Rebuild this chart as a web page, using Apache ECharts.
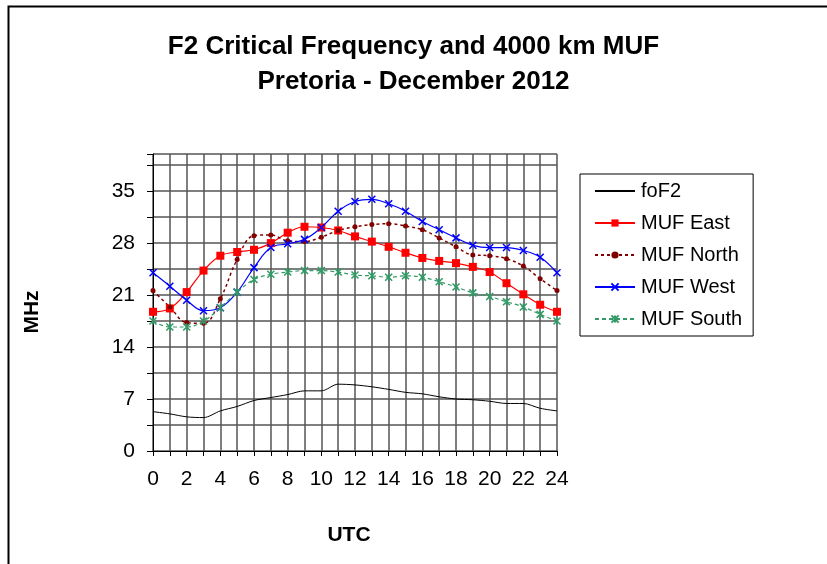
<!DOCTYPE html>
<html>
<head>
<meta charset="utf-8">
<script src="https://cdn.jsdelivr.net/npm/echarts@6/dist/echarts.min.js"></script>
<style>
  html, body { margin: 0; padding: 0; background: #fff; }
  #chart { width: 827px; height: 564px; }
</style>
</head>
<body>
<div id="chart"></div>
<script>
// UTC hours
var hours = [0,1,2,3,4,5,6,7,8,9,10,11,12,13,14,15,16,17,18,19,20,21,22,23,24];

// MHz values
var foF2     = [5.3,5.0,4.6,4.5,5.4,6.0,6.8,7.2,7.6,8.1,8.1,9.0,8.9,8.65,8.3,7.9,7.7,7.3,7.0,6.9,6.7,6.4,6.4,5.75,5.4];
var mufEast  = [18.75,19.2,21.4,24.3,26.3,26.8,27.1,28.0,29.4,30.2,30.1,29.7,28.9,28.2,27.5,26.7,26.0,25.6,25.3,24.8,24.1,22.6,21.1,19.7,18.75];
var mufNorth = [21.6,19.4,17.3,17.2,20.5,25.8,29.0,29.1,28.3,28.2,28.8,29.7,30.2,30.5,30.6,30.3,29.8,28.7,27.5,26.4,26.3,25.9,24.9,23.2,21.6];
var mufWest  = [24.0,22.2,20.3,18.9,19.3,21.4,24.7,27.4,27.9,28.5,30.1,32.3,33.6,33.9,33.3,32.3,30.9,29.8,28.7,27.7,27.4,27.4,27.0,26.1,24.0];
var mufSouth = [17.5,16.7,16.7,17.5,19.3,21.4,23.1,23.8,24.1,24.3,24.3,24.1,23.7,23.6,23.4,23.6,23.4,22.8,22.1,21.3,20.8,20.1,19.4,18.4,17.5];

var yTicks = [0,7,14,21,28,35];

var font = 'Liberation Sans, Arial, sans-serif';

function pairs(vals) {
    return hours.map(function (h, i) { return [h, vals[i]]; });
}

var chart = echarts.init(document.getElementById('chart'));

var option = {
    backgroundColor: '#fff',
    animation: false,
    title: {
        text: 'F2 Critical Frequency and 4000 km MUF\nPretoria - December 2012',
        left: 'center',
        top: 29,
        padding: [0, 0, 0, 25],
        textStyle: {
            fontFamily: font,
            fontSize: 26,
            fontWeight: 'bold',
            color: '#000',
            lineHeight: 35
        }
    },
    graphic: [
        {
            type: 'rect',
            shape: { x: 8.5, y: 6.5, width: 1000, height: 1000 },
            style: { fill: null, stroke: '#000', lineWidth: 2 },
            silent: true
        },
        {
            type: 'text',
            x: 32, y: 312,
            rotation: Math.PI / 2,
            style: {
                text: 'MHz', fontFamily: font, fontSize: 21, fontWeight: 'bold',
                fill: '#000', align: 'center', verticalAlign: 'middle'
            }
        },
        {
            type: 'text',
            x: 349, y: 535,
            style: {
                text: 'UTC', fontFamily: font, fontSize: 21, fontWeight: 'bold',
                fill: '#000', align: 'center', verticalAlign: 'middle'
            }
        }
    ],
    legend: {
        orient: 'vertical',
        left: 580,
        top: 174,
        itemWidth: 40,
        itemHeight: 9,
        itemGap: 12,
        padding: [7, 11, 7, 14],
        borderColor: '#000',
        borderWidth: 1,
        backgroundColor: '#fff',
        textStyle: { fontFamily: font, fontSize: 20, color: '#000', padding: [0, 0, 0, 1] },
        data: [
            { name: 'foF2', itemStyle: { opacity: 0 } },
            'MUF East', 'MUF North', 'MUF West', 'MUF South'
        ]
    },
    grid: { left: 153, top: 154, right: 270, bottom: 113 },
    xAxis: {
        type: 'value',
        min: 0, max: 24, interval: 1,
        axisLine: { onZero: false, lineStyle: { color: '#000', width: 1 } },
        axisTick: { show: true, length: 5, lineStyle: { color: '#000' } },
        axisLabel: {
            margin: 18,
            fontFamily: font, fontSize: 21, color: '#000',
            formatter: function (v) { return v % 2 === 0 ? String(v) : ''; }
        },
        splitLine: { show: true, lineStyle: { color: '#555', width: 1.5 } }
    },
    yAxis: {
        type: 'value',
        min: 0, max: 40, interval: 3.5,
        axisLine: { show: true, lineStyle: { color: '#000', width: 1 } },
        axisTick: { show: true, length: 6, lineStyle: { color: '#000' } },
        axisLabel: {
            margin: 18,
            fontFamily: font, fontSize: 21, color: '#000',
            formatter: function (v) { return yTicks.indexOf(v) >= 0 ? String(v) : ''; }
        },
        splitLine: { show: true, lineStyle: { color: '#555', width: 1.5 } }
    },
    series: [
        {
            name: 'foF2', type: 'line', data: pairs(foF2),
            smooth: 0.3, symbol: 'none',
            lineStyle: { color: '#000', width: 1 },
            itemStyle: { color: '#000' }
        },
        {
            name: 'MUF East', type: 'line', data: pairs(mufEast),
            smooth: 0.4, symbol: 'rect', symbolSize: 8,
            lineStyle: { color: '#ff0000', width: 1.2 },
            itemStyle: { color: '#ff0000' }
        },
        {
            name: 'MUF North', type: 'line', data: pairs(mufNorth),
            smooth: 0.4, symbol: 'circle', symbolSize: 5,
            lineStyle: { color: '#800000', width: 1.5, type: [3, 3] },
            itemStyle: { color: '#800000' }
        },
        {
            name: 'MUF West', type: 'line', data: pairs(mufWest),
            smooth: 0.4, symbol: 'path://M0,0L10,10M10,0L0,10', symbolSize: 7,
            lineStyle: { color: '#0000ff', width: 1.2 },
            itemStyle: { color: '#0000ff', borderColor: '#0000ff', borderWidth: 1.5 }
        },
        {
            name: 'MUF South', type: 'line', data: pairs(mufSouth),
            smooth: 0.4, symbol: 'path://M0,0L10,10M10,0L0,10M5,0L5,10', symbolSize: 7,
            lineStyle: { color: '#339966', width: 1.2, type: [4, 3] },
            itemStyle: { color: '#339966', borderColor: '#339966', borderWidth: 1.5 }
        }
    ]
};

chart.setOption(option);
</script>
</body>
</html>
